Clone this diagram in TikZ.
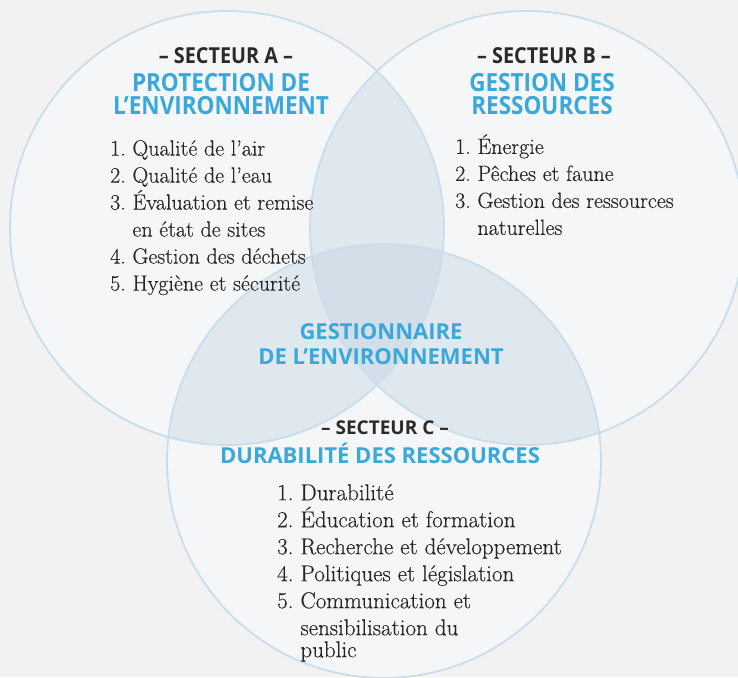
\documentclass[tikz,border=0pt]{standalone}
\usepackage{fontspec}
\setmainfont{Latin Modern Roman}[FakeBold=0.3]
\newfontfamily\titrefont{Open Sans}
\newfontfamily\titrecond[FakeStretch=0.9]{Open Sans}
\usepackage{xcolor}
\usepackage{tikz}
\usetikzlibrary{positioning}

\definecolor{fond}{HTML}{F2F2F2}
\definecolor{cercle}{HTML}{F4F6F8}
\definecolor{bord}{HTML}{CADDEA}
\definecolor{inter}{HTML}{DFE8EF}
\definecolor{centre}{HTML}{D3DFE8}
\definecolor{bleu}{HTML}{3AA8DA}
\definecolor{sombre}{HTML}{2A2A2A}

\tikzset{
  secteur/.style={font=\titrecond\bfseries\fontsize{22}{24}\selectfont, text=sombre, inner sep=0pt},
  titre/.style={font=\titrecond\bfseries\fontsize{25}{23}\selectfont, text=bleu, align=center, inner sep=0pt},
  liste/.style={font=\fontsize{22}{27}\selectfont, align=left, anchor=north west, inner sep=0pt, text=black!85},
  rond/.style={bord, line width=1.8pt}
}

\begin{document}
\begin{tikzpicture}[x=1pt,y=-1pt]
\fill[fond] (0,0) rectangle (738,677);
\useasboundingbox (0,0) rectangle (738,677);

% Centres des cercles
\coordinate (ca) at (227,228);
\coordinate (cb) at (527,228);
\coordinate (cc) at (384,461);
\def\rayon{217pt}

% Cercles et intersections
\fill[cercle] (ca) circle (\rayon);
\fill[cercle] (cb) circle (\rayon);
\fill[cercle] (cc) circle (\rayon);
\begin{scope}
  \clip (ca) circle (\rayon);
  \fill[inter] (cb) circle (\rayon);
  \fill[inter] (cc) circle (\rayon);
\end{scope}
\begin{scope}
  \clip (cb) circle (\rayon);
  \fill[inter] (cc) circle (\rayon);
\end{scope}
\begin{scope}
  \clip (ca) circle (\rayon);
  \clip (cb) circle (\rayon);
  \fill[centre] (cc) circle (\rayon);
\end{scope}
\draw[rond] (ca) circle (\rayon);
\draw[rond] (cb) circle (\rayon);
\draw[rond] (cc) circle (\rayon);

% Secteur A
\node[secteur] (secA) at (226,56) {– SECTEUR A –};
\node[titre] (titreA) at (221,94) {PROTECTION DE\\L’ENVIRONNEMENT};
\node[liste] (listeA) at (110,140) {1.~Qualité de l’air\\
2.~Qualité de l’eau\\
3.~Évaluation et remise\\
\phantom{3.~}en état de sites\\
4.~Gestion des déchets\\
5.~Hygiène et sécurité};

% Secteur B
\node[secteur] (secB) at (544,56) {– SECTEUR B –};
\node[titre] (titreB) at (542,94) {GESTION DES\\RESSOURCES};
\node[liste] (listeB) at (455,134) {1.~Énergie\\
2.~Pêches et faune\\
3.~Gestion des ressources\\
\phantom{3.~}naturelles};

% Centre
\node[titre, font=\titrefont\bfseries\fontsize{22}{25}\selectfont] (gest) at (381,344) {GESTIONNAIRE\\DE L’ENVIRONNEMENT};

% Secteur C
\node[secteur, font=\titrefont\bfseries\fontsize{19}{20}\selectfont] (secC) at (385,428) {– SECTEUR C –};
\node[titre, font=\titrefont\bfseries\fontsize{22}{23}\selectfont] (titreC) at (380,453) {DURABILITÉ DES RESSOURCES};
\node[liste, font=\fontsize{23}{27}\selectfont] (listeC) at (277,484) {1.~Durabilité\\
2.~Éducation et formation\\
3.~Recherche et développement\\
4.~Politiques et législation\\
5.~Communication et\\
\phantom{5.~}sensibilisation du\\[-5pt]
\phantom{5.~}public};
\end{tikzpicture}
\end{document}
